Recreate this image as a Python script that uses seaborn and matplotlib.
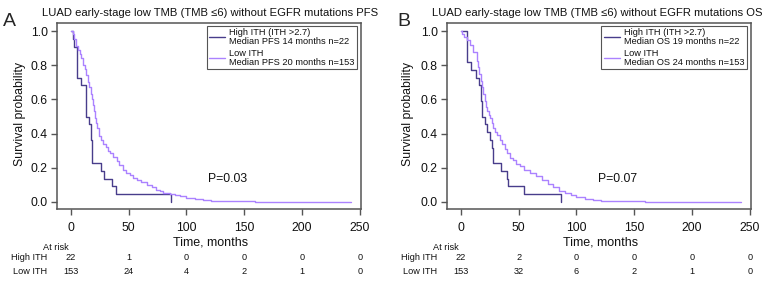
import matplotlib
matplotlib.use("Agg")
import matplotlib.pyplot as plt
import matplotlib.transforms as mtransforms
import seaborn as sns
import pandas as pd

sns.set_style("ticks")
plt.rcParams['font.family'] = ['Liberation Sans', 'DejaVu Sans']

# Colours
DARK = '#483D8B'
LIGHT = '#AB82FF'
FRAME = '#555555'

# ---- Panel A (PFS) curves ----
hi_a_t = [0, 1.5, 3, 5, 9, 13.5, 16, 17, 18.5, 26, 28.5, 35.5, 39, 87]
hi_a_s = [1, 0.955, 0.909, 0.727, 0.682, 0.5, 0.455, 0.364, 0.227, 0.182, 0.136, 0.091, 0.045, 0]

lo_a_t = [0, 1.5, 3, 4.5, 6, 7.5, 9, 10.5, 12, 13.5, 15, 16, 17, 18, 19, 20, 21, 22, 23,
          24.5, 26, 28, 30, 32, 34, 36.5, 39.5, 42, 45, 48, 51, 54, 57, 61, 65.5, 70, 74,
          77, 80, 83, 86, 90, 94, 100, 107, 114, 121, 159, 242]
lo_a_s = [1, 0.985, 0.955, 0.915, 0.89, 0.865, 0.84, 0.80, 0.775, 0.745, 0.70, 0.67, 0.63,
          0.60, 0.565, 0.53, 0.49, 0.46, 0.43, 0.385, 0.36, 0.34, 0.32, 0.30, 0.285, 0.265,
          0.24, 0.215, 0.19, 0.17, 0.155, 0.14, 0.13, 0.115, 0.10, 0.085, 0.072, 0.062,
          0.054, 0.05, 0.046, 0.04, 0.034, 0.026, 0.02, 0.014, 0.008, 0, 0]

# ---- Panel B (OS) curves ----
hi_b_t = [0, 5, 9, 13, 16, 17, 18.7, 20.8, 22.8, 25, 26.5, 28, 35, 39.5, 41, 55, 87]
hi_b_s = [1, 0.818, 0.773, 0.727, 0.682, 0.591, 0.5, 0.455, 0.409, 0.364, 0.318, 0.227,
          0.182, 0.136, 0.091, 0.045, 0]

lo_b_t = [0, 0.6, 2.5, 4.9, 7.8, 10.7, 13.6, 15, 16, 17, 18, 19.3, 20.8, 22, 23, 24, 25,
          26.5, 28, 29.5, 31, 34, 36, 38, 40, 42.5, 45, 48, 51, 55, 60, 65, 70, 75, 80, 85,
          90, 95, 100, 107, 114, 121, 159, 242]
lo_b_s = [1, 0.98, 0.965, 0.945, 0.92, 0.88, 0.825, 0.79, 0.75, 0.71, 0.67, 0.63, 0.59,
          0.555, 0.53, 0.51, 0.49, 0.46, 0.43, 0.41, 0.39, 0.36, 0.34, 0.31, 0.285, 0.26,
          0.245, 0.225, 0.21, 0.19, 0.17, 0.15, 0.128, 0.108, 0.085, 0.065, 0.05, 0.04,
          0.03, 0.02, 0.013, 0.008, 0, 0]

# ---- numbers at risk ----
risk_times = [0, 50, 100, 150, 200, 250]
risk_hi_a = [22, 1, 0, 0, 0, 0]
risk_lo_a = [153, 24, 4, 2, 1, 0]
risk_hi_b = [22, 2, 0, 0, 0, 0]
risk_lo_b = [153, 32, 6, 2, 1, 0]

titles = ["LUAD early-stage low TMB (TMB \u22646) without EGFR mutations PFS",
          "LUAD early-stage low TMB (TMB \u22646) without EGFR mutations OS"]
legend_hi = ["High ITH (ITH >2.7)\nMedian PFS 14 months n=22",
             "High ITH (ITH >2.7)\nMedian OS 19 months n=22"]
legend_lo = ["Low ITH\nMedian PFS 20 months n=153",
             "Low ITH\nMedian OS 24 months n=153"]
pvals = ["P=0.03", "P=0.07"]
letters = ["A", "B"]

W, H = 769, 282
fig = plt.figure(figsize=(W / 100, H / 100), dpi=100)


def fx(x):
    return x / W


def fy(y):
    return 1 - y / H


panels = [
    dict(left=57, right=361, hi=(hi_a_t, hi_a_s), lo=(lo_a_t, lo_a_s),
         risk=(risk_hi_a, risk_lo_a), letter_x=3, title_x=42, ylab_x=20),
    dict(left=447, right=751, hi=(hi_b_t, hi_b_s), lo=(lo_b_t, lo_b_s),
         risk=(risk_hi_b, risk_lo_b), letter_x=397, title_x=432, ylab_x=408),
]
top, bottom = 23, 209

for i, p in enumerate(panels):
    ax = fig.add_axes([fx(p['left']), fy(bottom), (p['right'] - p['left']) / W,
                       (bottom - top) / H])
    hi = pd.DataFrame({'time': p['hi'][0], 'surv': p['hi'][1]})
    lo = pd.DataFrame({'time': p['lo'][0], 'surv': p['lo'][1]})
    sns.lineplot(data=hi, x='time', y='surv', ax=ax, color=DARK, lw=1.0,
                 drawstyle='steps-post', estimator=None, label=legend_hi[i])
    sns.lineplot(data=lo, x='time', y='surv', ax=ax, color=LIGHT, lw=1.0,
                 drawstyle='steps-post', estimator=None, label=legend_lo[i])

    ax.set_xlim(-12, 251)
    ax.set_ylim(-0.041, 1.047)
    ax.set_xticks(risk_times)
    ax.set_yticks([0, 0.2, 0.4, 0.6, 0.8, 1.0])
    ax.set_yticklabels(['0.0', '0.2', '0.4', '0.6', '0.8', '1.0'])
    ax.set_xlabel('')
    ax.set_ylabel('')
    for s in ax.spines.values():
        s.set_color(FRAME)
        s.set_linewidth(1.1)
    ax.tick_params(axis='both', colors=FRAME, labelcolor='#111111', labelsize=8.8,
                   length=4.5, width=1.0)
    ax.tick_params(axis='y', pad=2)
    ax.tick_params(axis='x', pad=5)

    leg = ax.legend(loc='upper right', bbox_to_anchor=(0.987, 0.984), borderaxespad=0,
                    fontsize=6.7, frameon=True, fancybox=False, framealpha=1,
                    edgecolor=FRAME, handlelength=1.75, handletextpad=0.45,
                    borderpad=0.25, labelspacing=0.35)
    leg.get_frame().set_linewidth(0.8)
    for t in leg.get_texts():
        t.set_linespacing(0.95)
        t.set_color('#111111')

    ax.text(119, 0.133, pvals[i], fontsize=8.8, va='center', ha='left', color='#111111')

    # texts around the axes
    fig.text(fx(p['letter_x']), fy(26.5), letters[i], fontsize=14, va='baseline')
    fig.text(fx(p['title_x']), fy(16), titles[i], fontsize=8.1, va='baseline',
             color='#111111')
    fig.text(fx(p['ylab_x']), fy(113.5), 'Survival probability', rotation=90,
             fontsize=8.8, va='center', ha='center', color='#111111')
    fig.text(fx((p['left'] + p['right']) / 2 + 2), fy(242.5), 'Time, months',
             fontsize=9, va='center', ha='center', color='#111111')

    # risk table
    tr = mtransforms.blended_transform_factory(ax.transData, fig.transFigure)
    fig.text(fx(p['left'] - 1), fy(247.5), 'At risk', fontsize=6.6, ha='center',
             va='center', color='#111111')
    fig.text(fx(p['left'] - 10), fy(258), 'High ITH', fontsize=6.6, ha='right',
             va='center', color='#111111')
    fig.text(fx(p['left'] - 10), fy(272), 'Low ITH', fontsize=6.6, ha='right',
             va='center', color='#111111')
    for t, nh, nl in zip(risk_times, p['risk'][0], p['risk'][1]):
        ax.text(t, fy(258), str(nh), transform=tr, fontsize=6.6, ha='center',
                va='center', color='#111111')
        ax.text(t, fy(272), str(nl), transform=tr, fontsize=6.6, ha='center',
                va='center', color='#111111')

fig.savefig('out.png', dpi=100)
